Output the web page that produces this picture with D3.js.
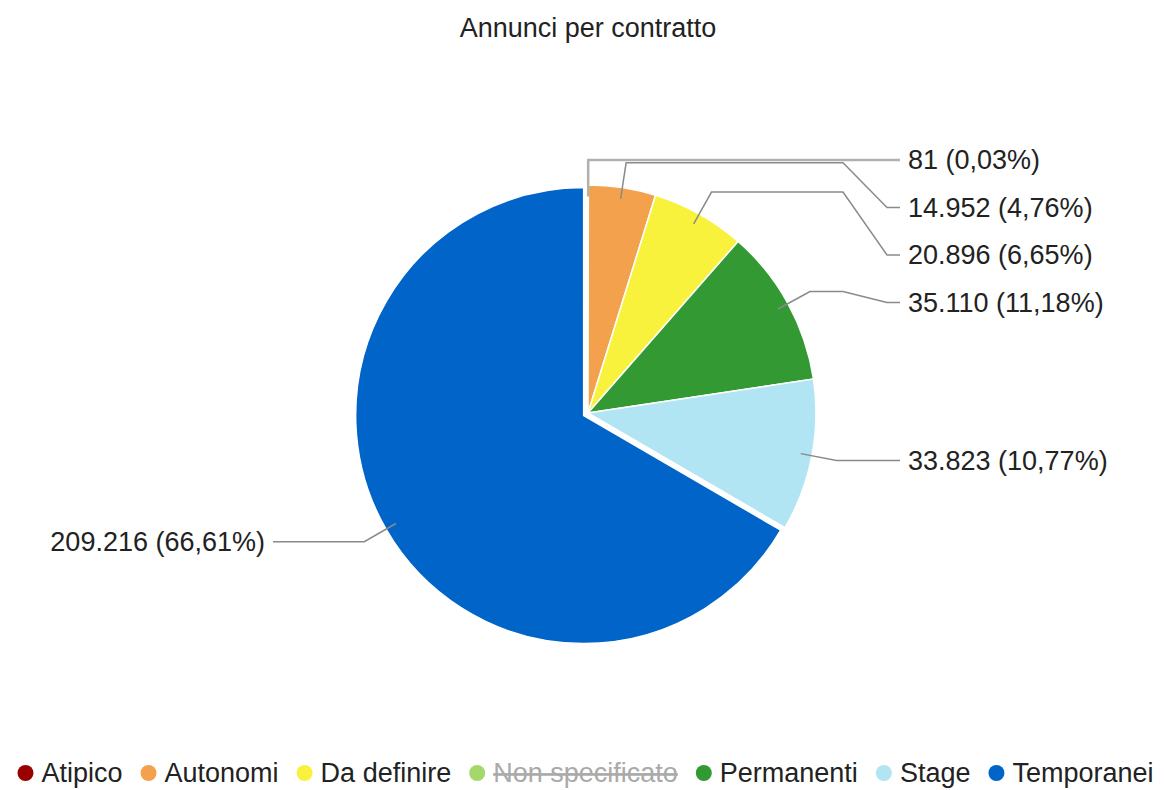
<!DOCTYPE html>
<html>
<head>
<meta charset="utf-8">
<script src="https://cdn.jsdelivr.net/npm/d3@7"></script>
<style>
  body { margin: 0; background: #fff; }
  svg text { font-family: "Liberation Sans", Arial, sans-serif; }
</style>
</head>
<body>
<svg id="viz"></svg>
<script>
let width = 1165;
let height = 790;

let title = "Annunci per contratto";
let categories = ["Atipico", "Autonomi", "Da definire", "Non specificato", "Permanenti", "Stage", "Temporanei"];
let values = [81, 14952, 20896, 0, 35110, 33823, 209216];
let hidden = [false, false, false, true, false, false, false];
let colors = ["#990000", "#f4a14e", "#f9f23c", "#a5d86b", "#339933", "#b2e5f3", "#0064c8"];
let exploded = ["Temporanei"];

let cx = 588, cy = 413, radius = 228;
let fontSize = 27;

let it = d3.formatLocale({ decimal: ",", thousands: ".", grouping: [3], currency: ["€", ""] });
let fmtNum = it.format(",");
let fmtPct = it.format(".2%");

let svg = d3.select("#viz")
    .attr("width", width)
    .attr("height", height);

svg.append("text")
    .attr("x", cx)
    .attr("y", 28)
    .attr("dy", "0.35em")
    .attr("text-anchor", "middle")
    .attr("font-size", fontSize)
    .attr("fill", "#222")
    .text(title);

let rows = categories.map((c, i) => ({ name: c, value: values[i], color: colors[i], hidden: hidden[i] }));
let visible = rows.filter(d => !d.hidden);
let total = d3.sum(visible, d => d.value);

let pie = d3.pie().sort(null).value(d => d.value).startAngle(0).endAngle(2 * Math.PI);
let arcs = pie(visible);

let arc = d3.arc().innerRadius(0).outerRadius(radius);

function mid(d) { return (d.startAngle + d.endAngle) / 2; }
function offsetOf(d) {
    if (exploded.indexOf(d.data.name) < 0) return [0, 0];
    let a = mid(d);
    return [Math.sin(a) * 5, -Math.cos(a) * 5];
}
function polar(d, r) {
    let a = mid(d), o = offsetOf(d);
    return [cx + o[0] + Math.sin(a) * r, cy + o[1] - Math.cos(a) * r];
}

let g = svg.append("g");
g.selectAll("path")
    .data(arcs)
    .enter()
    .append("path")
    .attr("transform", d => { let o = offsetOf(d); return "translate(" + (cx + o[0]) + "," + (cy + o[1]) + ")"; })
    .attr("d", arc)
    .attr("fill", d => d.data.color)
    .attr("stroke", "#fff")
    .attr("stroke-width", 1.5);

// label layout: natural y from angle, then push down on the right side
let labels = arcs.map(d => {
    let anchor = polar(d, radius * 0.95);
    let bend = polar(d, radius * 1.11);
    let right = mid(d) < Math.PI;
    return { d: d, anchor: anchor, bend: bend, right: right, y: bend[1] };
});
let rightLabels = labels.filter(l => l.right).sort((a, b) => a.bend[1] - b.bend[1]);
let prev = -Infinity;
rightLabels.forEach(l => {
    l.y = Math.max(l.bend[1], prev + 47.5);
    prev = l.y;
});

let lineG = svg.append("g").attr("fill", "none");
labels.forEach(l => {
    let pts;
    if (l.right) {
        if (Math.abs(l.y - l.bend[1]) < 1) pts = [l.anchor, l.bend, [900, l.y]];
        else pts = [l.anchor, l.bend, [843, l.bend[1]], [887, l.y], [900, l.y]];
    } else {
        pts = [l.anchor, l.bend, [273, l.y]];
    }
    lineG.append("path")
        .attr("d", d3.line()(pts))
        .attr("stroke", l.d.data.name === "Atipico" ? "#b0b0b0" : "#8a8a8a")
        .attr("stroke-width", l.d.data.name === "Atipico" ? 2.5 : 1.5);

    svg.append("text")
        .attr("x", l.right ? 908 : 265)
        .attr("y", l.y)
        .attr("dy", "0.35em")
        .attr("text-anchor", l.right ? "start" : "end")
        .attr("font-size", fontSize)
        .attr("fill", "#222")
        .text(fmtNum(l.d.data.value) + " (" + fmtPct(l.d.data.value / total) + ")");
});

// legend
let legendY = 773;
let legend = svg.append("g");
let items = legend.selectAll("g")
    .data(rows)
    .enter()
    .append("g");
items.append("circle")
    .attr("r", 8)
    .attr("cy", legendY)
    .attr("fill", d => d.color);
items.append("text")
    .attr("y", legendY)
    .attr("dy", "0.35em")
    .attr("font-size", fontSize)
    .attr("fill", d => d.hidden ? "#aaa" : "#222")
    .attr("text-decoration", d => d.hidden ? "line-through" : null)
    .text(d => d.name);

let x = 0;
let gap = 18;
items.each(function (d) {
    let item = d3.select(this);
    let w = item.select("text").node().getComputedTextLength();
    item.select("circle").attr("cx", x + 8);
    item.select("text").attr("x", x + 24);
    x += 24 + w + gap;
});
let legendWidth = x - gap;
legend.attr("transform", "translate(" + (585.5 - legendWidth / 2) + ",0)");
</script>
</body>
</html>
